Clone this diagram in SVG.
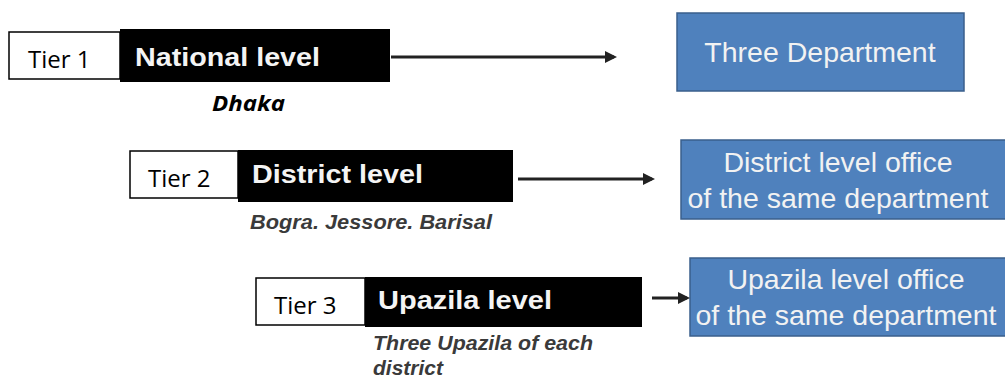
<svg xmlns="http://www.w3.org/2000/svg" width="1005" height="383" viewBox="0 0 1005 383">
<style>
.tier{fill:#fff;stroke:#000;stroke-width:1.5}
.tiert{font-family:"Open Sans","Liberation Sans",sans-serif;font-size:24px;fill:#000}
.lvl{fill:#000}
.lvlt{font-family:"Liberation Sans",Arial,sans-serif;font-weight:bold;font-size:26px;fill:#f4f4f4}
.place{font-family:"Liberation Sans",Arial,sans-serif;font-weight:bold;font-style:italic;font-size:21px;fill:#3a3a3a}
.dhaka{font-family:"Open Sans","Liberation Sans",sans-serif;font-weight:bold;font-style:italic;font-size:21px;fill:#000}
.dept{fill:#4f81bd;stroke:#3a5f8c;stroke-width:1.5}
.deptt{font-family:"Liberation Sans",Arial,sans-serif;font-size:28.5px;fill:#f2f2f2;text-anchor:middle}
.conn{stroke:#222;stroke-width:3;fill:none;marker-end:url(#ah)}
</style>
<defs>
<marker id="ah" markerWidth="4" markerHeight="4" refX="3" refY="2" orient="auto" markerUnits="strokeWidth">
<path d="M0,0 L4,2 L0,4 Z" fill="#222"/>
</marker>
</defs>
<g id="tier1">
<rect class="tier" x="9" y="32" width="111" height="47"/>
<text class="tiert" x="28" y="68">Tier 1</text>
</g>
<g id="national">
<rect class="lvl" x="120" y="29" width="270" height="53"/>
<text class="lvlt" x="135" y="66" textLength="185" lengthAdjust="spacingAndGlyphs">National level</text>
<text class="dhaka" x="212" y="111" textLength="73" lengthAdjust="spacingAndGlyphs">Dhaka</text>
</g>
<g id="tier2">
<rect class="tier" x="130" y="151" width="108" height="47"/>
<text class="tiert" x="148" y="187">Tier 2</text>
</g>
<g id="district">
<rect class="lvl" x="238" y="150" width="275" height="52"/>
<text class="lvlt" x="252" y="183" textLength="171" lengthAdjust="spacingAndGlyphs">District level</text>
<text class="place" x="250" y="229" textLength="242" lengthAdjust="spacingAndGlyphs">Bogra. Jessore. Barisal</text>
</g>
<g id="tier3">
<rect class="tier" x="256" y="278" width="109" height="47"/>
<text class="tiert" x="274" y="314">Tier 3</text>
</g>
<g id="upazila">
<rect class="lvl" x="365" y="277" width="277" height="50"/>
<text class="lvlt" x="378" y="309" textLength="174" lengthAdjust="spacingAndGlyphs">Upazila level</text>
<text class="place" x="373" y="350" textLength="220" lengthAdjust="spacingAndGlyphs">Three Upazila of each</text>
<text class="place" x="373" y="375">district</text>
</g>
<g id="dept1">
<rect class="dept" x="677" y="13" width="287" height="78"/>
<text class="deptt" x="820" y="62">Three Department</text>
</g>
<g id="dept2">
<rect class="dept" x="681" y="140" width="325" height="79"/>
<text class="deptt" x="838" y="172">District level office</text>
<text class="deptt" x="838" y="208">of the same department</text>
</g>
<g id="dept3">
<rect class="dept" x="690" y="258" width="316" height="78"/>
<text class="deptt" x="846" y="289">Upazila level office</text>
<text class="deptt" x="846" y="325">of the same department</text>
</g>
<g id="connectors">
<line class="conn" x1="391" y1="57" x2="614" y2="57"/>
<line class="conn" x1="518" y1="179" x2="652" y2="179"/>
<line class="conn" x1="652" y1="298" x2="687" y2="298"/>
</g>
</svg>
